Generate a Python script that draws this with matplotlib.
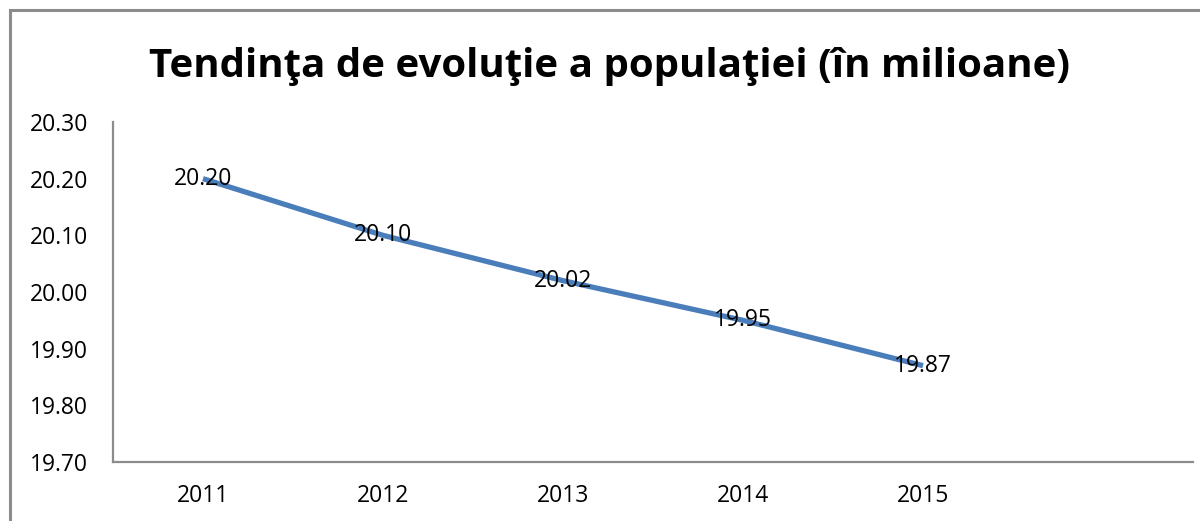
import matplotlib.pyplot as plt
from matplotlib.patches import Rectangle

# date
ani = ['2011', '2012', '2013', '2014', '2015']
populatie = [20.20, 20.10, 20.02, 19.95, 19.87]
y_ticks = [19.70, 19.80, 19.90, 20.00, 20.10, 20.20, 20.30]
titlu = 'Tendinţa de evoluţie a populaţiei (în milioane)'

plt.rcParams['font.family'] = ['Open Sans', 'DejaVu Sans']

fig = plt.figure(figsize=(12, 5.21), dpi=100)

# chenarul graficului (iese din imagine la dreapta si jos)
fig.patches.append(Rectangle((10 / 1200, -0.1), 1.2, 1 - 10 / 521 + 0.1,
                             transform=fig.transFigure, fill=False,
                             edgecolor='#8c8c8c', linewidth=2.2))

ax = fig.add_axes([113 / 1200, 1 - 462 / 521, 1080 / 1200, 340 / 521])

x = list(range(len(ani)))
ax.plot(x, populatie, color='#4a7ebb', linewidth=3.8, solid_capstyle='butt')
for xi, v in zip(x, populatie):
    ax.text(xi, v, f'{v:.2f}', ha='center', va='center', fontsize=16.5, color='black')

ax.set_xlim(-0.5, 5.5)
ax.set_ylim(19.70, 20.30)
ax.set_xticks(x)
ax.set_xticklabels(ani)
ax.set_yticks(y_ticks)
ax.set_yticklabels([f'{t:.2f}' for t in y_ticks])
ax.tick_params(length=0, labelsize=16.5, colors='black')
ax.tick_params(axis='x', pad=16)
ax.tick_params(axis='y', pad=18)

for s in ['top', 'right']:
    ax.spines[s].set_visible(False)
for s in ['left', 'bottom']:
    ax.spines[s].set_color('#8c8c8c')
    ax.spines[s].set_linewidth(1.6)

fig.text(0.508, 1 - 66 / 521, titlu, ha='center', va='center',
         fontsize=29, fontweight='bold')

fig.savefig('out.png', dpi=100)
